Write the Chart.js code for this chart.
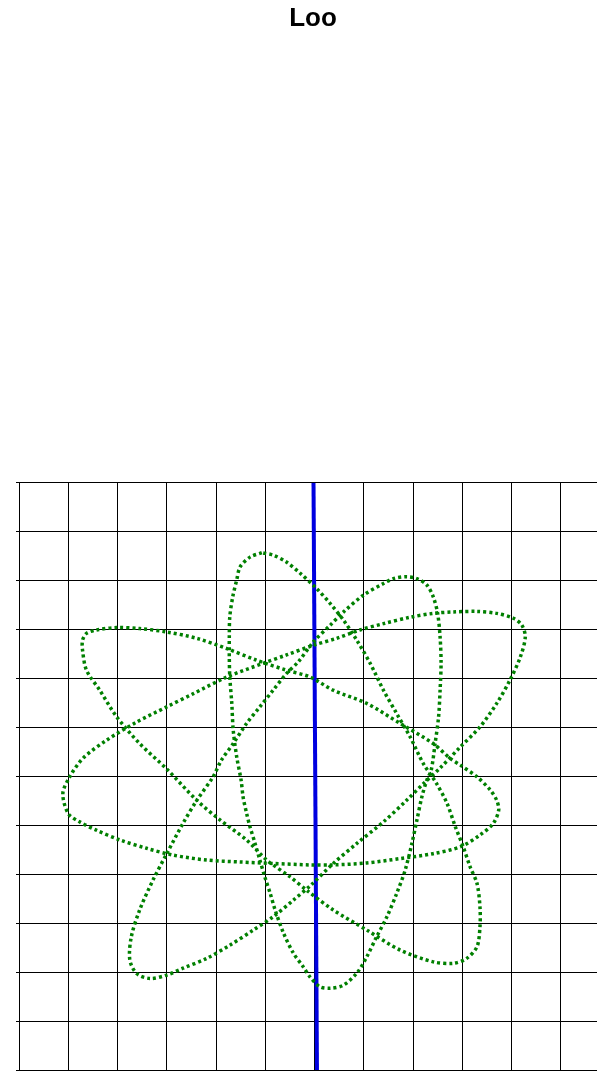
<!DOCTYPE html>
<html>
<head>
<meta charset="utf-8">
<script src="https://cdn.jsdelivr.net/npm/chart.js@4/dist/chart.umd.min.js"></script>
<style>
  html, body { margin: 0; padding: 0; background: #fff; overflow: hidden; }
  #c { display: block; }
</style>
</head>
<body>
<canvas id="c" width="630" height="1090"></canvas>
<script>
const chartTitle = "Loo";
const xRange = [-6, 6];
const yRange = [-6, 6];
const gridStep = 1;

// Loop curve (in grid units)
const loopX = [-1.07,-1.31,-1.51,-1.58,-1.66,-1.72,-1.73,-1.73,-1.72,-1.68,-1.65,-1.58,-1.49,-1.45,-1.38,-1.31,-1.21,-1.11,-1.01,-0.90,-0.80,-0.63,-0.43,-0.23,-0.09,0.11,0.32,0.58,0.86,1.06,1.26,1.47,1.67,1.84,1.98,2.08,2.18,2.28,2.37,2.45,2.52,2.55,2.57,2.55,2.50,2.41,2.28,2.08,1.87,1.60,1.40,0.99,0.59,0.32,-0.02,-0.33,-0.57,-0.84,-1.11,-1.38,-1.65,-1.89,-2.06,-2.39,-2.67,-3.00,-3.28,-3.55,-3.72,-3.75,-3.61,-3.34,-3.00,-2.67,-2.19,-1.72,-1.24,-0.84,-0.43,-0.07,0.38,0.86,1.40,1.87,2.21,2.55,2.96,3.36,3.70,3.97,4.18,4.28,4.21,4.04,3.70,3.30,2.82,2.41,1.94,1.40,0.92,0.45,-0.02,-0.57,-1.04,-1.78,-2.46,-3.00,-3.61,-4.22,-4.70,-4.97,-5.11,-5.00,-4.77,-4.43,-3.95,-3.41,-2.87,-2.19,-1.51,-0.84,-0.09,0.38,1.06,1.74,2.41,2.96,3.36,3.63,3.74,3.70,3.57,3.30,2.96,2.75,2.41,1.74,1.06,0.38,-0.09,-0.57,-1.17,-1.78,-2.39,-3.00,-3.55,-4.02,-4.43,-4.63,-4.71,-4.71,-4.63,-4.36,-4.02,-3.55,-3.00,-2.39,-1.92,-1.38,-0.97,-0.50,-0.13,0.38,1.06,1.74,2.41,2.82,3.09,3.30,3.36,3.36,3.30,3.16,3.02,2.86,2.69,2.48,2.21,1.94,1.67,1.40,1.13,0.86,0.59,0.32,0.04,-0.29,-0.57,-0.84,-1.07];
const loopY = [4.57,4.48,4.28,4.01,3.67,3.26,2.85,2.44,2.03,1.50,0.94,0.40,-0.08,-0.42,-0.75,-1.03,-1.36,-1.71,-2.05,-2.39,-2.73,-3.20,-3.61,-3.89,-4.10,-4.30,-4.33,-4.27,-4.02,-3.69,-3.28,-2.87,-2.39,-1.92,-1.36,-0.89,-0.42,-0.08,0.13,0.68,1.22,1.76,2.31,2.85,3.33,3.67,3.91,4.04,4.08,4.04,3.94,3.70,3.36,3.09,2.75,2.34,2.10,1.76,1.42,1.08,0.67,0.33,-0.01,-0.49,-0.96,-1.58,-2.12,-2.73,-3.28,-3.75,-4.03,-4.13,-4.06,-3.92,-3.72,-3.45,-3.14,-2.87,-2.53,-2.22,-1.78,-1.37,-0.93,-0.49,-0.15,0.17,0.60,1.01,1.49,1.97,2.44,2.85,3.09,3.23,3.33,3.37,3.36,3.33,3.25,3.12,2.99,2.82,2.68,2.48,2.31,2.03,1.69,1.42,1.11,0.74,0.37,-0.01,-0.35,-0.76,-0.93,-1.10,-1.30,-1.47,-1.61,-1.71,-1.75,-1.78,-1.81,-1.81,-1.77,-1.68,-1.58,-1.44,-1.20,-0.96,-0.69,-0.49,-0.28,-0.01,0.23,0.37,0.67,1.08,1.49,1.76,2.03,2.17,2.37,2.61,2.82,2.95,3.02,3.04,2.99,2.92,2.78,2.58,2.17,1.76,1.22,0.67,0.15,-0.49,-0.89,-1.30,-1.71,-2.05,-2.35,-2.73,-3.14,-3.55,-3.79,-3.82,-3.72,-3.48,-3.07,-2.67,-2.19,-1.85,-1.44,-1.03,-0.55,-0.15,0.26,0.81,1.28,1.76,2.31,2.78,3.19,3.53,3.84,4.15,4.38,4.52,4.57];

// Vertical line near x = 0
const lineX = [-0.02, 0.05];
const lineY = [6, -6];

const toPoints = (xs, ys) => xs.map((x, i) => ({ x: x, y: ys[i] }));

new Chart(document.getElementById('c'), {
  type: 'scatter',
  data: {
    datasets: [
      {
        label: 'loop',
        data: toPoints(loopX, loopY),
        showLine: true,
        borderColor: '#008000',
        borderWidth: 3.5,
        borderDash: [3, 3],
        pointRadius: 0,
        tension: 0.3,
        fill: false
      },
      {
        label: 'axis',
        data: toPoints(lineX, lineY),
        showLine: true,
        borderColor: '#0000e0',
        borderWidth: 4,
        pointRadius: 0,
        fill: false
      }
    ]
  },
  options: {
    responsive: false,
    animation: false,
    events: [],
    layout: { padding: { left: 16, right: 20, top: 0, bottom: 20 } },
    plugins: {
      legend: { display: false },
      tooltip: { enabled: false },
      title: {
        display: true,
        text: chartTitle,
        color: '#000',
        font: { family: '"Liberation Sans", Arial, sans-serif', size: 26, weight: 'bold' },
        padding: { top: 3, bottom: 448.5 }
      }
    },
    scales: {
      x: {
        type: 'linear',
        min: xRange[0], max: xRange[1],
        ticks: { display: false, stepSize: gridStep },
        grid: { color: '#000', lineWidth: 1, drawTicks: false },
        border: { color: '#000' }
      },
      y: {
        type: 'linear',
        min: yRange[0], max: yRange[1],
        ticks: { display: false, stepSize: gridStep },
        grid: { color: '#000', lineWidth: 1, drawTicks: true, tickLength: 3 },
        border: { color: '#000' }
      }
    }
  }
});
</script>
</body>
</html>
